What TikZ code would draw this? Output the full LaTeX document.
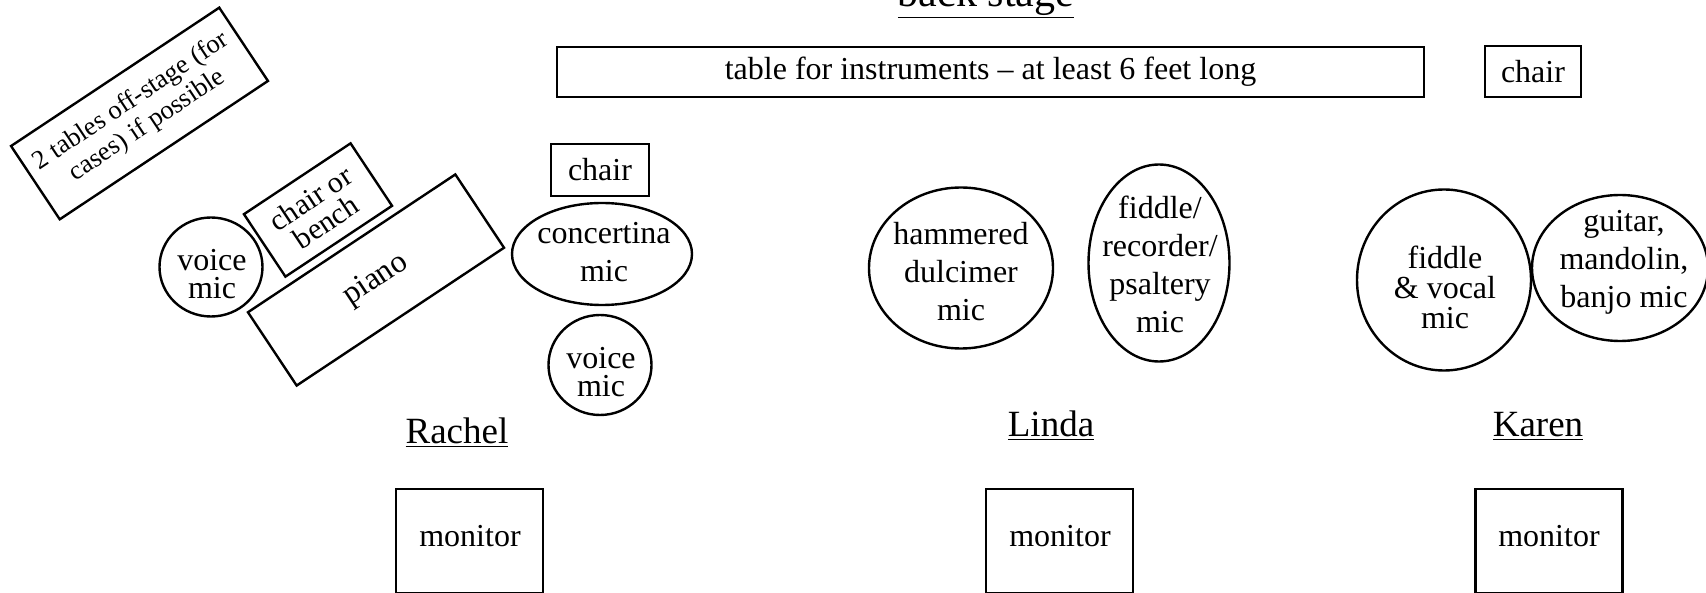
\documentclass[tikz,border=0pt]{standalone}
\usepackage{fontspec}
\setmainfont{Liberation Serif}
\usetikzlibrary{shapes.geometric}
\begin{document}
\begin{tikzpicture}[x=1pt,y=-1pt,
  every node/.style={font=\fontsize{32}{38}\selectfont, align=center, inner sep=0pt},
  box/.style={draw, line width=2.4pt, rectangle},
  mic/.style={draw, line width=2.4pt, ellipse},
  person/.style={anchor=base, font=\fontsize{37}{40}\selectfont}]
\useasboundingbox (0,0) rectangle (1706,593);
% back stage
\node[person, font=\fontsize{42}{44}\selectfont] (back) at (986,7) {\underline{back stage}};
\node[box, minimum width=867pt, minimum height=50pt] (table) at (990.5,72) {table for instruments -- at least 6 feet long};
\node[box, minimum width=96pt, minimum height=51pt] (chairTR) at (1533,71.5) {chair};
% left rotated items
\node[box, rotate=33.6, minimum width=250pt, minimum height=88pt, font=\fontsize{26.5}{29}\selectfont] (offstage) at (139.5,113.5) {2 tables off-stage (for\\cases) if possible};
\node[box, rotate=33.6, minimum width=128pt, minimum height=75pt, font=\fontsize{30}{28}\selectfont] (bench) at (318,210) {chair or\\bench};
\node[box, rotate=33.6, minimum width=249pt, minimum height=88pt] (piano) at (376,280) {piano};
\node[mic, minimum width=103pt, minimum height=99pt] (vmic1) at (211,267) {};
\node[font=\fontsize{32}{28}\selectfont] (vmic1t) at (212,274) {voice\\mic};
% Rachel
\node[box, minimum width=98pt, minimum height=52pt] (chairR) at (600,170) {chair};
\node[mic, minimum width=180pt, minimum height=102pt] (conc) at (602,254) {};
\node (conct) at (604,252) {concertina\\mic};
\node[mic, minimum width=103pt, minimum height=100pt] (vmic2) at (600,365) {};
\node[font=\fontsize{32}{28}\selectfont] (vmic2t) at (601,372) {voice\\mic};
% Linda
\node[mic, minimum width=184pt, minimum height=161pt] (dulc) at (961,268) {};
\node (dulct) at (961,272) {hammered\\dulcimer\\mic};
\node[mic, minimum width=141pt, minimum height=197pt] (fidrec) at (1159,263) {};
\node (fidrect) at (1160,264) {fiddle/\\recorder/\\psaltery\\mic};
% Karen
\node[mic, minimum width=174pt, minimum height=181pt] (fidvoc) at (1444,280) {};
\node[font=\fontsize{32}{30}\selectfont] (fidvoct) at (1445,287) {fiddle\\\& vocal\\mic};
\node[mic, minimum width=176pt, minimum height=146pt] (guitar) at (1620,268) {};
\node (guitart) at (1624,262) {guitar,\\mandolin,\\banjo mic};
% names
\node[person] (rachel) at (457,444) {\underline{Rachel}};
\node[person] (linda) at (1051,437) {\underline{Linda}};
\node[person] (karen) at (1538,437) {\underline{Karen}};
% monitors
\node[box, minimum width=147pt, minimum height=104pt] (mon1) at (469.5,541) {};
\node (mon1t) at (470,536) {monitor};
\node[box, minimum width=147pt, minimum height=104pt] (mon2) at (1059.5,541) {};
\node (mon2t) at (1060,536) {monitor};
\node[box, minimum width=147pt, minimum height=104pt] (mon3) at (1549,541) {};
\node (mon3t) at (1549,536) {monitor};
\end{tikzpicture}
\end{document}
